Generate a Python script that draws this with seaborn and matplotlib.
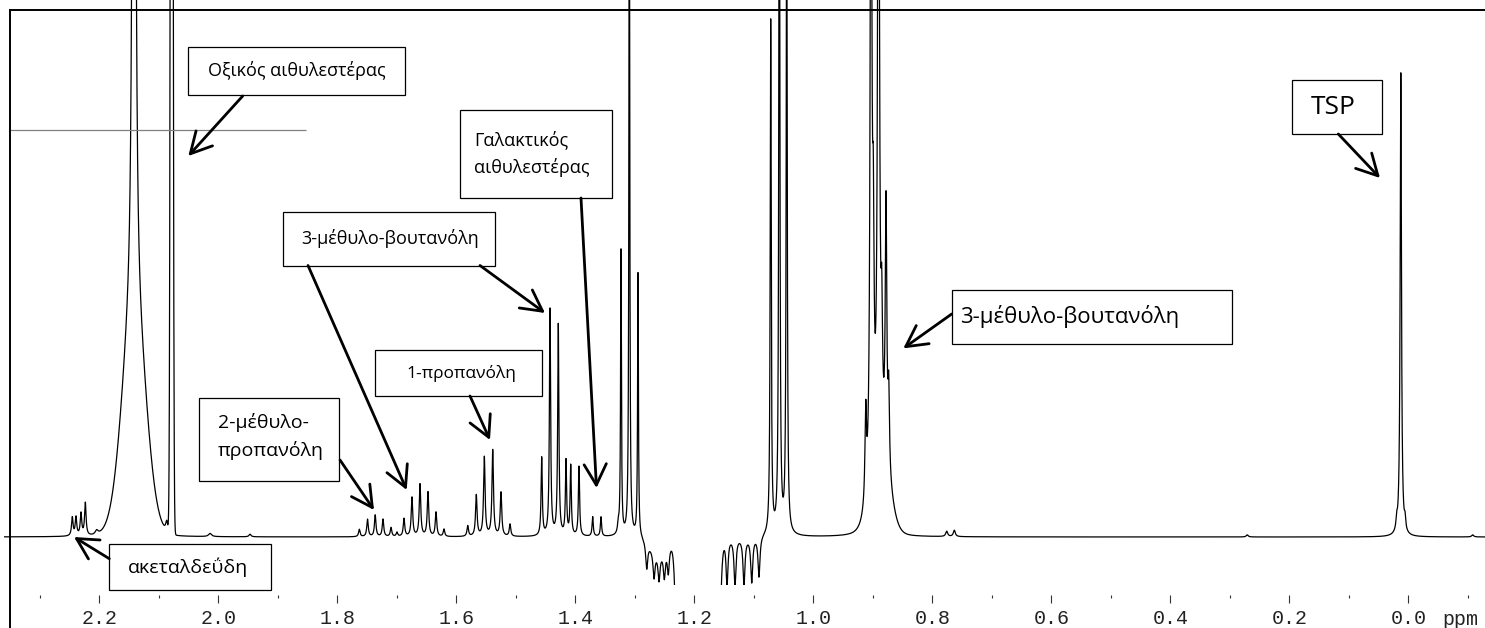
import numpy as np
import matplotlib
matplotlib.use("Agg")
import matplotlib.pyplot as plt
import seaborn as sns
from matplotlib.patches import Rectangle, FancyArrowPatch
from matplotlib.ticker import MultipleLocator

sns.set_theme(style="white")
plt.rcParams['font.family'] = ['Open Sans', 'DejaVu Sans']

W, H = 1485, 628

# ---------------- data ----------------
# narrow Lorentzian lines: shift (ppm), height (1 = top frame), half width (ppm)
line_ppm = [2.2454, 2.2392, 2.2308, 2.2235, 2.2044,
            2.1417, 2.0867, 2.0139, 1.9467,
            1.7630, 1.7492, 1.7363, 1.7232, 1.7097, 1.6997,
            1.6879, 1.6745, 1.6610, 1.6476, 1.6341, 1.6207,
            1.5808, 1.5664, 1.5529, 1.5388, 1.5249, 1.5097,
            1.4565, 1.4425, 1.4286, 1.4156, 1.4077, 1.3938, 1.3708, 1.3568, 1.3277,
            1.3232, 1.3092, 1.2946,
            1.2800, 1.2677, 1.2593, 1.2504, 1.2437,
            1.1450, 1.1316, 1.1165, 1.1035, 1.0913,
            1.0716, 1.0571, 1.0447,
            0.9119, 0.9030, 0.8992, 0.8904, 0.8850, 0.8778, 0.8733,
            0.7758, 0.7630, 0.2707,
            0.0195, 0.0126, 0.0055, -0.1082]
line_height = [0.035, 0.035, 0.042, 0.062, 0.008,
               4.35, 0.02, 0.006, 0.005,
               0.014, 0.033, 0.041, 0.033, 0.017, 0.008,
               0.034, 0.074, 0.099, 0.084, 0.046, 0.014,
               0.02, 0.078, 0.15, 0.163, 0.083, 0.023,
               0.148, 0.43, 0.40, 0.141, 0.132, 0.132, 0.037, 0.037, 0.017,
               0.54, 1.4, 0.5,
               -0.05, -0.05, -0.05, -0.05, -0.05,
               -0.09, -0.09, -0.09, -0.085, -0.078,
               0.975, 1.6, 1.3,
               0.17, 1.6, 0.36, 1.8, 0.2, 0.48, 0.15,
               0.01, 0.012, 0.004,
               0.02, 0.88, 0.02, 0.004]
line_hwhm = [0.0015, 0.0015, 0.0015, 0.0015, 0.003,
             0.0017, 0.002, 0.003, 0.002,
             0.0015, 0.0015, 0.0015, 0.0015, 0.0015, 0.0015,
             0.0015, 0.0015, 0.0015, 0.0015, 0.0015, 0.0015,
             0.0015, 0.0015, 0.0015, 0.0015, 0.0015, 0.0015,
             0.0012, 0.0012, 0.0012, 0.0012, 0.0012, 0.0012, 0.0012, 0.0012, 0.0015,
             0.00084, 0.00084, 0.00084,
             0.002, 0.002, 0.002, 0.002, 0.002,
             0.002, 0.002, 0.002, 0.002, 0.002,
             0.001, 0.001, 0.001,
             0.0015, 0.0015, 0.0015, 0.0015, 0.0015, 0.0015, 0.0015,
             0.002, 0.002, 0.002,
             0.0013, 0.0013, 0.0013, 0.002]
# broad Gaussian components: shift, height, sigma (ppm)
broad_ppm = [2.1417, 2.0783, 0.8870, 1.2600, 1.1938]
broad_height = [0.42, 3.7, 0.15, -0.03, -300.0]
broad_sigma = [0.0194, 0.00172, 0.014, 0.015, 0.00975]

tick_values = [2.2, 2.0, 1.8, 1.6, 1.4, 1.2, 1.0, 0.8, 0.6, 0.4, 0.2, 0.0]

# labels: text, box (left, top, right, bottom px), text anchor (x, y px), size
labels = ["Οξικός αιθυλεστέρας", "ακεταλδεΰδη", "2-μέθυλο-\nπροπανόλη",
          "3-μέθυλο-βουτανόλη", "1-προπανόλη", "Γαλακτικός\nαιθυλεστέρας",
          "3-μέθυλο-βουτανόλη", "TSP"]
label_boxes = [(187.7, 47.3, 405, 95.3), (109.3, 543.5, 270.7, 590),
               (199.3, 397.7, 339.3, 480.6), (282.7, 211.5, 495, 265.5),
               (375, 350, 541.7, 395.7), (460, 110, 611.7, 198),
               (951.7, 290, 1231.7, 343.6), (1291.7, 80, 1381.7, 134)]
label_text_xy = [(208, 71), (128, 567), (218, 437), (301, 238),
                 (406, 373), (474, 154), (960, 316), (1311, 107)]
label_size = [13, 14, 14, 13, 12.5, 13, 16, 19]
arrows = [((242.7, 96), (188.3, 156)), ((109.3, 558.7), (74, 537)),
          ((340, 460), (374, 510)), ((308, 265.5), (406.7, 490)),
          ((480, 265.5), (545, 313)), ((470, 396), (490, 440)),
          ((581, 198), (596.5, 488)), ((951.7, 314), (903.3, 348.4)),
          ((1338.3, 134), (1380, 178))]

# ---------------- build spectrum ----------------
X0, K, BASE, TOP = 1408.3, 595.0, 537.0, 10.0
def px2ppm(x):
    return (X0 - x) / K
def py2int(y):
    return (BASE - y) / (BASE - TOP)

ppm = np.linspace(2.36, -0.14, 40000)
inten = np.zeros_like(ppm)
for c, h, g in zip(line_ppm, line_height, line_hwhm):
    inten += h * g**2 / (g**2 + (ppm - c)**2)
for c, h, s in zip(broad_ppm, broad_height, broad_sigma):
    inten += h * np.exp(-0.5 * ((ppm - c) / s) ** 2)

fig = plt.figure(figsize=(W / 100, H / 100), dpi=100)
ax = fig.add_axes([10 / W, 0, 1480 / W, (H - TOP) / H])
sns.lineplot(x=ppm, y=inten, ax=ax, color='black', lw=0.9,
             estimator=None, sort=False)
ax.set_xlim(px2ppm(10), px2ppm(1490))
ax.set_ylim(py2int(H), 1.0)
floor = py2int(585)
clip = Rectangle((ppm.min(), floor), ppm.max() - ppm.min(), 2.0 - floor,
                 transform=ax.transData)
ax.lines[0].set_clip_path(clip)

# thin grey line at upper left
ax.hlines(py2int(130), px2ppm(306), px2ppm(10), color='#808080', lw=0.9)

for s in ['right', 'bottom']:
    ax.spines[s].set_visible(False)
for s in ['left', 'top']:
    ax.spines[s].set_color('black')
    ax.spines[s].set_linewidth(1.4)
ax.spines['bottom'].set_position(('data', py2int(595)))
ax.set_yticks([])
ax.set_xticks(tick_values)
ax.set_xticklabels([f"{v:.1f}" for v in tick_values])
ax.xaxis.set_minor_locator(MultipleLocator(0.1))
ax.tick_params(axis='x', which='both', bottom=True, top=False)
ax.tick_params(axis='x', which='major', direction='out', length=5.5,
               width=0.8, color='#333333', pad=4.5, labelsize=14.4,
               labelcolor='#222222', labelfontfamily='Liberation Mono')
ax.tick_params(axis='x', which='minor', direction='out', length=2.2,
               width=0.8, color='#333333')
ax.set_xlabel('')
ax.set_ylabel('')
ax.text(px2ppm(1442), py2int(610), 'ppm', ha='left', va='top',
        fontsize=14.4, family='Liberation Mono', color='#222222', clip_on=False)

def fx(x):
    return x / W
def fy(y):
    return (H - y) / H

for txt, (l, t, r, b), (tx, ty), fs in zip(labels, label_boxes, label_text_xy, label_size):
    fig.add_artist(Rectangle((fx(l), fy(b)), fx(r) - fx(l), fy(t) - fy(b),
                             transform=fig.transFigure, facecolor='white',
                             edgecolor='black', lw=0.9, zorder=5))
    fig.text(fx(tx), fy(ty), txt, ha='left', va='center', fontsize=fs,
             color='black', zorder=6, linespacing=1.6,
             family=['Open Sans', 'DejaVu Sans'])

for (sx, sy), (ex, ey) in arrows:
    fig.add_artist(FancyArrowPatch((fx(sx), fy(sy)), (fx(ex), fy(ey)),
                                   transform=fig.transFigure,
                                   arrowstyle='->,head_length=0.75,head_width=0.4',
                                   mutation_scale=20, lw=2.0, color='black',
                                   shrinkA=0, shrinkB=0, zorder=7))

fig.savefig('out.png', dpi=100)
